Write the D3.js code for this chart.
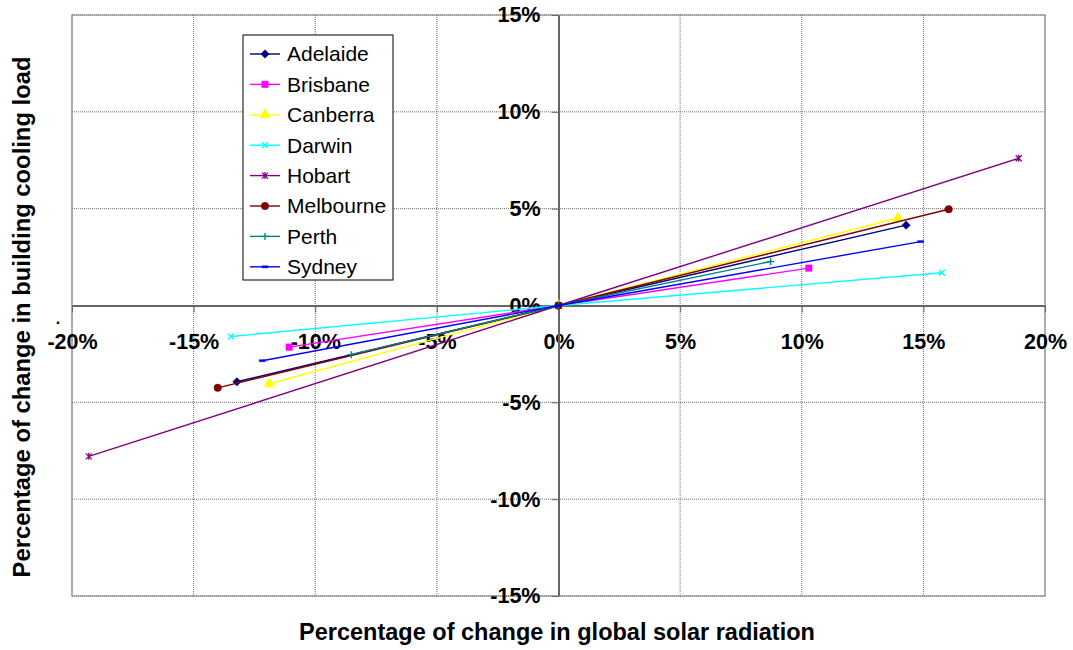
<!DOCTYPE html>
<html>
<head>
<meta charset="utf-8">
<script src="https://cdn.jsdelivr.net/npm/d3@7"></script>
<style>
  html, body { margin: 0; padding: 0; background: #fff; }
  svg { display: block; }
  text { font-family: "Liberation Sans", Arial, sans-serif; }
</style>
</head>
<body>
<svg id="chart" width="1073" height="650"></svg>
<script>
// Cities plotted as series
const cities = ["Adelaide", "Brisbane", "Canberra", "Darwin", "Hobart", "Melbourne", "Perth", "Sydney"];
const colors = ["#000080", "#FF00FF", "#FFFF00", "#00FFFF", "#800080", "#800000", "#008080", "#0000FF"];
const markers = ["diamond", "square", "triangle", "xcross", "asterisk", "circle", "plus", "dash"];

// Change in global solar radiation (%) for each city: decrease, baseline, increase
const solarChange = [
  [-13.22, 0, 14.29],
  [-11.07, 0, 10.29],
  [-11.89, 0, 13.95],
  [-13.47, 0, 15.76],
  [-19.31, 0, 18.92],
  [-14.01, 0, 16.04],
  [-8.52, 0, 8.72],
  [-12.18, 0, 14.89]
];
// Resulting change in building cooling load (%)
const coolingChange = [
  [-3.94, 0, 4.15],
  [-2.15, 0, 1.93],
  [-4.04, 0, 4.52],
  [-1.60, 0, 1.69],
  [-7.79, 0, 7.60],
  [-4.25, 0, 4.97],
  [-2.54, 0, 2.27],
  [-2.85, 0, 3.30]
];

const xTicks = [-20, -15, -10, -5, 0, 5, 10, 15, 20];
const yTicks = [-15, -10, -5, 0, 5, 10, 15];
const xTitle = "Percentage of change in global solar radiation";
const yTitle = "Percentage of change in building cooling load";

const svg = d3.select("#chart");
const x = d3.scaleLinear().domain([-20, 20]).range([72, 1045]);
const y = d3.scaleLinear().domain([-15, 15]).range([596, 15]);
const fmt = d => d + "%";

// Gridlines
const grid = svg.append("g");
grid.selectAll(".gx").data(xTicks).join("line")
  .attr("x1", d => x(d)).attr("x2", d => x(d))
  .attr("y1", y(15)).attr("y2", y(-15))
  .attr("stroke", "#6e6e6e").attr("stroke-width", 1).attr("stroke-dasharray", "1,1");
grid.selectAll(".gy").data(yTicks).join("line")
  .attr("x1", x(-20)).attr("x2", x(20))
  .attr("y1", d => y(d)).attr("y2", d => y(d))
  .attr("stroke", "#6e6e6e").attr("stroke-width", 1).attr("stroke-dasharray", "1,1");

// Plot area frame
svg.append("rect")
  .attr("x", x(-20)).attr("y", y(15))
  .attr("width", x(20) - x(-20)).attr("height", y(-15) - y(15))
  .attr("fill", "none").attr("stroke", "#808080").attr("stroke-width", 1);

// Axes crossing at the origin
const xAxis = svg.append("g")
  .attr("transform", `translate(0,${y(0)})`)
  .call(d3.axisBottom(x).tickValues(xTicks).tickFormat(fmt).tickSize(7).tickSizeOuter(0).tickPadding(21));
const yAxis = svg.append("g")
  .attr("transform", `translate(${x(0)},0)`)
  .call(d3.axisLeft(y).tickValues(yTicks).tickFormat(fmt).tickSize(7).tickSizeOuter(0).tickPadding(11));

[xAxis, yAxis].forEach(a => {
  a.select(".domain").attr("stroke", "#666").attr("stroke-width", 2);
  a.selectAll(".tick line").attr("stroke", "#666").attr("stroke-width", 1);
  a.selectAll(".tick text")
    .attr("fill", "#000")
    .style("font-family", "'Liberation Sans', Arial, sans-serif")
    .style("font-size", "21.5px")
    .style("font-weight", "bold");
});

// Marker shapes
function markerPath(type) {
  switch (type) {
    case "diamond": return "M0,-4.2L4.2,0L0,4.2L-4.2,0Z";
    case "square": return d3.symbol(d3.symbolSquare, 42)();
    case "triangle": return d3.symbol(d3.symbolTriangle, 48)();
    case "circle": return d3.symbol(d3.symbolCircle, 44)();
    case "xcross": return "M-3,-3L3,3M-3,3L3,-3";
    case "asterisk": return "M-3,-3L3,3M-3,3L3,-3M0,-3.5L0,3.5";
    case "plus": return "M-3.5,0L3.5,0M0,-3.5L0,3.5";
    case "dash": return "M-3,-1L3,-1L3,1L-3,1Z";
  }
}
function drawMarker(g, type, color) {
  const stroked = ["xcross", "asterisk", "plus"].includes(type);
  g.append("path")
    .attr("d", markerPath(type))
    .attr("fill", stroked ? "none" : color)
    .attr("stroke", color)
    .attr("stroke-width", stroked ? 1.3 : 0.5);
}

// Series lines and markers
const line = d3.line().x(d => x(d[0])).y(d => y(d[1]));
cities.forEach((c, i) => {
  const pts = solarChange[i].map((v, j) => [v, coolingChange[i][j]]);
  const g = svg.append("g");
  g.append("path").attr("d", line(pts))
    .attr("fill", "none").attr("stroke", colors[i]).attr("stroke-width", 1.4);
  pts.forEach(p => {
    const m = g.append("g").attr("transform", `translate(${x(p[0])},${y(p[1])})`);
    drawMarker(m, markers[i], colors[i]);
  });
});

// Legend
const lg = svg.append("g");
lg.append("rect").attr("x", 243).attr("y", 35).attr("width", 150).attr("height", 245)
  .attr("fill", "#fff").attr("stroke", "#000").attr("stroke-width", 1);
cities.forEach((c, i) => {
  const cy = 54 + i * 30.4;
  lg.append("line").attr("x1", 250).attr("x2", 280).attr("y1", cy).attr("y2", cy)
    .attr("stroke", colors[i]).attr("stroke-width", 1.4);
  const m = lg.append("g").attr("transform", `translate(265,${cy})`);
  drawMarker(m, markers[i], colors[i]);
  lg.append("text").attr("x", 287).attr("y", cy).attr("dy", "0.35em")
    .style("font-size", "21px").attr("fill", "#000").text(c);
});

// Axis titles
svg.append("text").attr("x", 557).attr("y", 640).attr("text-anchor", "middle")
  .style("font-size", "23.5px").style("font-weight", "bold").text(xTitle);
svg.append("text").attr("transform", "translate(30,317) rotate(-90)").attr("text-anchor", "middle")
  .style("font-size", "23.8px").style("font-weight", "bold").text(yTitle);

// Stray point beside the axis
svg.append("text").attr("x", 58).attr("y", 324).attr("text-anchor", "middle")
  .style("font-size", "16px").style("font-weight", "bold").text(".");
</script>
</body>
</html>
